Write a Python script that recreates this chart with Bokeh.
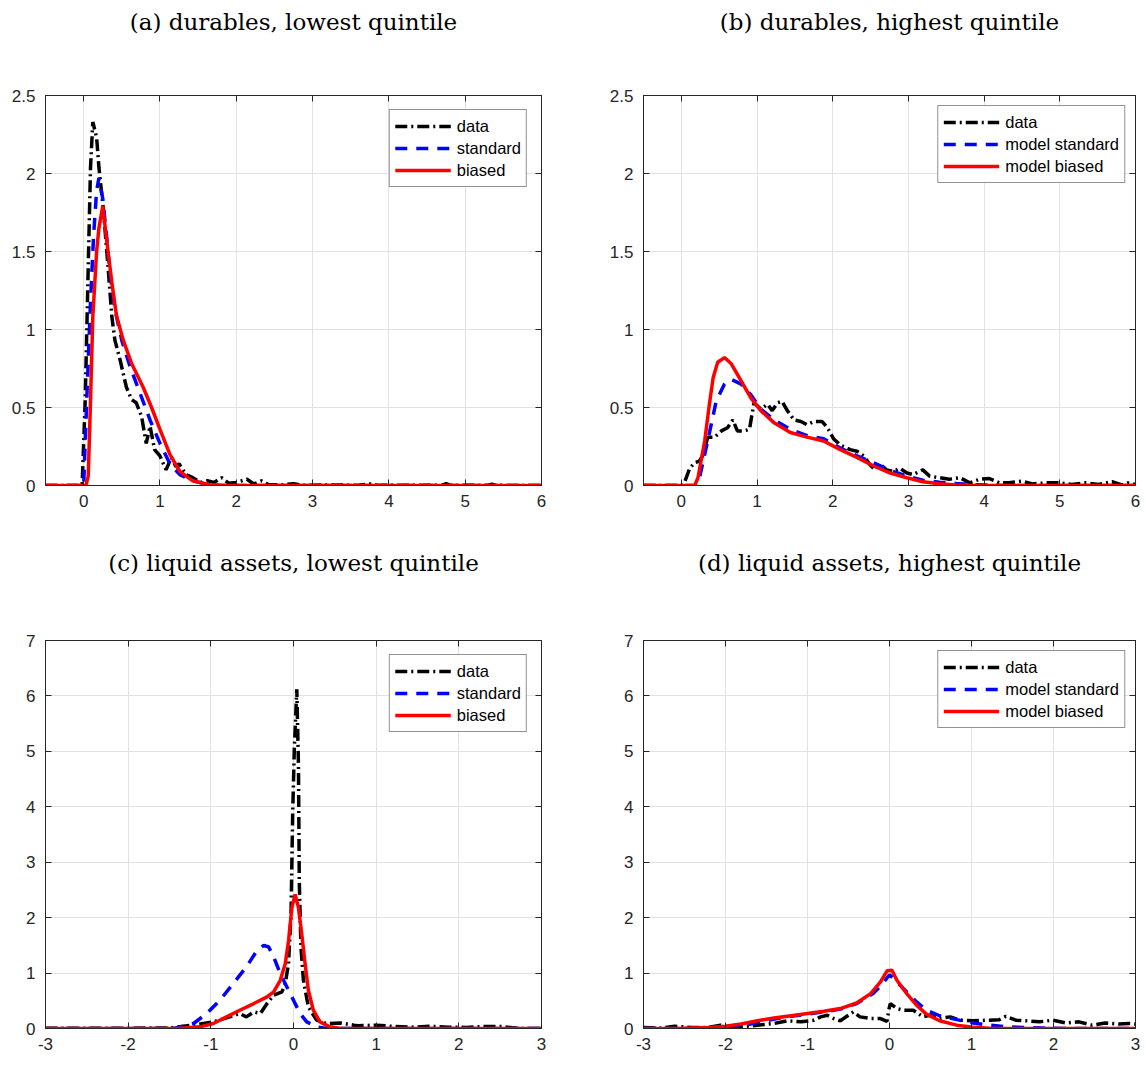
from bokeh.plotting import figure
from bokeh.layouts import column, row
from bokeh.models import FixedTicker, LinearAxis
from bokeh.embed import file_html
from bokeh.resources import INLINE

# (a) durables, lowest quintile
a_data_x = [-0.5, -0.02, 0.02, 0.06, 0.09, 0.12, 0.17, 0.2, 0.26, 0.32, 0.37, 0.41, 0.48, 0.56,
            0.63, 0.69, 0.76, 0.82, 0.87, 0.93, 1.0, 1.08, 1.15, 1.21, 1.25, 1.34, 1.43, 1.53,
            1.62, 1.71, 1.81, 1.9, 2.0, 2.14, 2.23, 2.33, 2.42, 2.6, 2.75, 2.85, 3.2, 3.6,
            3.75, 3.85, 4.3, 4.7, 4.75, 4.8, 5.3, 5.35, 5.4, 6.0]
a_data_y = [0.0, 0.0, 0.54, 1.4, 2.04, 2.33, 2.23, 2.04, 1.76, 1.4, 1.08, 0.93, 0.8, 0.63,
            0.55, 0.53, 0.44, 0.27, 0.38, 0.23, 0.19, 0.1, 0.18, 0.12, 0.14, 0.07, 0.05, 0.02,
            0.03, 0.02, 0.05, 0.015, 0.02, 0.04, 0.01, 0.03, 0.006, 0.004, 0.012, 0.002, 0.003, 0.002,
            0.01, 0.002, 0.002, 0.002, 0.012, 0.002, 0.002, 0.008, 0.001, 0.0]
a_std_x = [-0.5, 0.0, 0.04, 0.09, 0.13, 0.17, 0.2, 0.25, 0.3, 0.35, 0.41, 0.5, 0.61, 0.74,
           0.87, 1.0, 1.13, 1.26, 1.43, 1.62, 1.8, 6.0]
a_std_y = [0.0, 0.0, 0.54, 1.18, 1.6, 1.89, 1.97, 1.84, 1.6, 1.34, 1.13, 0.93, 0.76, 0.59,
           0.42, 0.27, 0.14, 0.07, 0.03, 0.006, 0.0, 0.0]
a_bias_x = [-0.5, 0.03, 0.06, 0.09, 0.12, 0.17, 0.2, 0.25, 0.3, 0.37, 0.43, 0.52, 0.63, 0.78,
            0.89, 1.0, 1.13, 1.26, 1.43, 1.65, 1.9, 6.0]
a_bias_y = [0.0, 0.0, 0.06, 0.54, 1.08, 1.5, 1.65, 1.79, 1.58, 1.3, 1.09, 0.93, 0.78, 0.63,
            0.5, 0.36, 0.2, 0.09, 0.03, 0.005, 0.0, 0.0]

# (b) durables, highest quintile
b_data_x = [-0.5, 0.0, 0.04, 0.11, 0.175, 0.24, 0.28, 0.35, 0.44, 0.53, 0.61, 0.68, 0.74, 0.83,
            0.9, 0.96, 1.05, 1.14, 1.2, 1.27, 1.33, 1.4, 1.49, 1.58, 1.66, 1.75, 1.86, 1.93,
            2.01, 2.1, 2.23, 2.32, 2.41, 2.49, 2.54, 2.63, 2.71, 2.8, 2.89, 2.98, 3.06, 3.19,
            3.28, 3.41, 3.54, 3.68, 3.81, 3.94, 4.07, 4.2, 4.33, 4.5, 4.64, 4.82, 4.99, 5.16,
            5.34, 5.51, 5.69, 5.82, 5.9, 6.0]
b_data_y = [0.0, 0.0, 0.017, 0.11, 0.146, 0.157, 0.19, 0.31, 0.31, 0.35, 0.37, 0.42, 0.35, 0.35,
            0.36, 0.53, 0.49, 0.52, 0.48, 0.53, 0.54, 0.48, 0.42, 0.41, 0.39, 0.41, 0.41, 0.37,
            0.3, 0.26, 0.23, 0.22, 0.19, 0.135, 0.11, 0.135, 0.1, 0.09, 0.11, 0.08, 0.07, 0.1,
            0.06, 0.05, 0.04, 0.05, 0.017, 0.04, 0.045, 0.017, 0.017, 0.028, 0.01, 0.017, 0.017, 0.006,
            0.017, 0.006, 0.024, 0.004, 0.017, 0.006]
b_std_x = [-0.5, 0.2, 0.24, 0.35, 0.46, 0.57, 0.66, 0.79, 0.92, 1.05, 1.23, 1.44, 1.66, 1.88,
           2.1, 2.32, 2.54, 2.76, 2.98, 3.19, 3.41, 3.63, 3.85, 4.3, 6.0]
b_std_y = [0.0, 0.0, 0.05, 0.29, 0.54, 0.65, 0.68, 0.65, 0.58, 0.49, 0.42, 0.36, 0.32, 0.3,
           0.24, 0.19, 0.146, 0.097, 0.06, 0.034, 0.021, 0.013, 0.006, 0.0, 0.0]
b_bias_x = [-0.5, 0.175, 0.22, 0.31, 0.37, 0.42, 0.48, 0.57, 0.66, 0.79, 0.92, 1.05, 1.23, 1.44,
            1.66, 1.88, 2.1, 2.32, 2.54, 2.76, 2.98, 3.19, 3.41, 3.63, 3.9, 6.0]
b_bias_y = [0.0, 0.0, 0.05, 0.29, 0.52, 0.69, 0.79, 0.82, 0.78, 0.67, 0.56, 0.48, 0.4, 0.34,
            0.31, 0.285, 0.23, 0.18, 0.125, 0.08, 0.05, 0.024, 0.011, 0.004, 0.0, 0.0]

# (c) liquid assets, lowest quintile
c_data_x = [-3.0, -2.5, -2.0, -1.5, -1.22, -0.97, -0.77, -0.65, -0.57, -0.48, -0.4, -0.32, -0.24,
            -0.14, -0.1, -0.06, -0.03, -0.01, 0.01, 0.04, 0.06, 0.07, 0.09, 0.12, 0.18, 0.28,
            0.4, 0.57, 0.73, 0.78, 1.0, 1.22, 1.43, 1.65, 1.87, 2.09, 2.3, 2.52, 2.74, 3.0]
c_data_y = [0.005, 0.005, 0.005, 0.01, 0.06, 0.12, 0.21, 0.27, 0.21, 0.3, 0.27, 0.45, 0.6,
            0.66, 0.81, 1.17, 2.06, 3.86, 5.05, 6.12, 4.75, 2.66, 1.47, 0.87, 0.39, 0.15,
            0.09, 0.1, 0.06, 0.05, 0.06, 0.036, 0.024, 0.04, 0.024, 0.02, 0.036, 0.036, 0.0, 0.0]
c_std_x = [-3.0, -1.45, -1.21, -1.05, -0.89, -0.73, -0.57, -0.44, -0.36, -0.3, -0.24, -0.16,
           -0.08, 0.0, 0.08, 0.16, 0.28, 0.4, 3.0]
c_std_y = [0.0, 0.0, 0.09, 0.27, 0.51, 0.81, 1.11, 1.41, 1.5, 1.47, 1.29, 0.99,
           0.75, 0.51, 0.27, 0.12, 0.03, 0.0, 0.0]
c_bias_x = [-3.0, -1.4, -1.13, -0.97, -0.81, -0.65, -0.48, -0.32, -0.24, -0.16, -0.1, -0.06,
            -0.02, 0.02, 0.06, 0.1, 0.14, 0.18, 0.24, 0.32, 0.44, 0.57, 3.0]
c_bias_y = [0.0, 0.0, 0.03, 0.09, 0.21, 0.33, 0.45, 0.57, 0.66, 0.87, 1.17, 1.58,
            2.18, 2.42, 2.18, 1.7, 1.17, 0.69, 0.33, 0.12, 0.03, 0.0, 0.0]

# (d) liquid assets, highest quintile
d_data_x = [-3.0, -2.78, -2.62, -2.42, -2.21, -2.06, -1.93, -1.81, -1.61, -1.41, -1.24, -1.08,
            -0.92, -0.84, -0.76, -0.68, -0.6, -0.52, -0.44, -0.36, -0.23, -0.11, -0.03, -0.01,
            0.01, 0.09, 0.17, 0.29, 0.41, 0.49, 0.61, 0.74, 0.86, 1.02, 1.22, 1.34, 1.42, 1.54,
            1.66, 1.83, 1.99, 2.15, 2.31, 2.47, 2.63, 2.8, 2.92, 3.0]
d_data_y = [0.02, 0.006, 0.04, 0.02, 0.02, 0.06, 0.02, 0.03, 0.06, 0.09, 0.14, 0.12,
            0.15, 0.21, 0.24, 0.18, 0.14, 0.22, 0.3, 0.21, 0.18, 0.18, 0.13, 0.33,
            0.45, 0.36, 0.33, 0.33, 0.21, 0.24, 0.18, 0.21, 0.15, 0.14, 0.15, 0.16, 0.22, 0.15,
            0.14, 0.12, 0.15, 0.1, 0.12, 0.06, 0.1, 0.08, 0.09, 0.08]
d_std_x = [-3.0, -2.4, -2.0, -1.8, -1.6, -1.4, -1.2, -1.0, -0.8, -0.6, -0.4, -0.2, -0.1, 0.0,
           0.09, 0.21, 0.33, 0.45, 0.61, 0.82, 1.02, 1.22, 1.42, 1.83, 2.2, 3.0]
d_std_y = [0.0, 0.0, 0.01, 0.05, 0.11, 0.17, 0.22, 0.26, 0.3, 0.35, 0.45, 0.63, 0.78, 0.97,
           0.84, 0.66, 0.48, 0.33, 0.23, 0.16, 0.1, 0.06, 0.03, 0.012, 0.0, 0.0]
d_bias_x = [-3.0, -2.62, -2.21, -2.0, -1.81, -1.61, -1.41, -1.2, -1.0, -0.8, -0.6, -0.4, -0.23,
            -0.11, -0.03, 0.03, 0.09, 0.21, 0.33, 0.45, 0.61, 0.82, 1.02, 1.22, 1.5, 3.0]
d_bias_y = [0.0, 0.0, 0.02, 0.04, 0.08, 0.14, 0.19, 0.23, 0.27, 0.31, 0.36, 0.46, 0.63,
            0.84, 1.04, 1.05, 0.87, 0.63, 0.42, 0.26, 0.14, 0.06, 0.024, 0.006, 0.0, 0.0]

x_ticks_top = [0, 1, 2, 3, 4, 5, 6]
y_ticks_top = [0, 0.5, 1, 1.5, 2, 2.5]
x_ticks_bottom = [-3, -2, -1, 0, 1, 2, 3]
y_ticks_bottom = [0, 1, 2, 3, 4, 5, 6, 7]

AX = "#262626"
TICK_FONT = "Liberation Sans"


def fmt(v):
    return "%g" % v


def style_axis(a, ticks, show_labels):
    a.ticker = FixedTicker(ticks=ticks)
    a.minor_tick_line_color = None
    a.major_tick_in = 6
    a.major_tick_out = 0
    a.major_tick_line_color = AX
    a.axis_line_color = AX
    if show_labels:
        a.major_label_overrides = {t: fmt(t) for t in ticks}
        a.major_label_text_font = TICK_FONT
        a.major_label_text_font_size = "17px"
        a.major_label_text_color = AX
    else:
        a.major_label_text_color = None
        a.major_label_text_font_size = "0px"
        a.major_label_standoff = 0


def panel(title, xr, yr, xt, yt, w, h, bl, br, bt, bb, lines, labels, lmargin, tstand):
    p = figure(width=w, height=h, x_range=xr, y_range=yr, output_backend="svg",
               toolbar_location=None, title=None, min_border_left=bl, min_border_right=br,
               min_border_top=bt, min_border_bottom=bb)
    top = LinearAxis()
    right = LinearAxis()
    p.add_layout(top, "above")
    p.add_layout(right, "right")
    bottom = p.below[0]
    left = p.left[0]
    style_axis(bottom, xt, True)
    style_axis(left, yt, True)
    style_axis(top, xt, False)
    style_axis(right, yt, False)
    bottom.major_label_standoff = 9
    left.major_label_standoff = 10

    # panel caption set as the label of the top axis
    top.axis_label = title
    top.axis_label_text_font = "DejaVu Serif"
    top.axis_label_text_font_size = "23px"
    top.axis_label_text_font_style = "normal"
    top.axis_label_text_color = "black"
    top.axis_label_standoff = tstand

    p.xgrid.ticker = FixedTicker(ticks=xt)
    p.ygrid.ticker = FixedTicker(ticks=yt)
    p.grid.grid_line_color = "#e2e2e2"
    p.outline_line_color = AX

    (dx, dy), (sx, sy), (bx, by) = lines
    p.line(dx, dy, line_color="black", line_width=3.5, line_dash="12 4 2 4", legend_label=labels[0])
    p.line(sx, sy, line_color="blue", line_width=3.5, line_dash="12 9", legend_label=labels[1])
    p.line(bx, by, line_color="red", line_width=3.5, legend_label=labels[2])

    lg = p.legend[0]
    lg.location = "top_right"
    lg.margin = lmargin
    lg.padding = 5
    lg.spacing = 0
    lg.glyph_width = 56
    lg.glyph_height = 22
    lg.label_height = 22
    lg.label_standoff = 6
    lg.label_text_font = TICK_FONT
    lg.label_text_font_size = "16.5px"
    lg.label_text_color = "black"
    lg.border_line_color = AX
    lg.border_line_width = 1
    return p


labels_low = ["data", "standard", "biased"]
labels_high = ["data", "model standard", "model biased"]

pa = panel("(a) durables, lowest quintile", (-0.5, 6), (0, 2.5), x_ticks_top, y_ticks_top,
           573, 540, 45, 32, 95, 55,
           [(a_data_x, a_data_y), (a_std_x, a_std_y), (a_bias_x, a_bias_y)], labels_low, 14, 61)
pb = panel("(b) durables, highest quintile", (-0.5, 6), (0, 2.5), x_ticks_top, y_ticks_top,
           568, 540, 70, 6, 95, 55,
           [(b_data_x, b_data_y), (b_std_x, b_std_y), (b_bias_x, b_bias_y)], labels_high, 10, 61)
pc = panel("(c) liquid assets, lowest quintile", (-3, 3), (0, 7), x_ticks_bottom, y_ticks_bottom,
           573, 518, 45, 32, 100, 30,
           [(c_data_x, c_data_y), (c_std_x, c_std_y), (c_bias_x, c_bias_y)], labels_low, 14, 65)
pd = panel("(d) liquid assets, highest quintile", (-3, 3), (0, 7), x_ticks_bottom, y_ticks_bottom,
           568, 518, 70, 6, 100, 30,
           [(d_data_x, d_data_y), (d_std_x, d_std_y), (d_bias_x, d_bias_y)], labels_high, 10, 65)

p = column(row(pa, pb), row(pc, pd))
open("out.html", "w").write(file_html(p, INLINE))
